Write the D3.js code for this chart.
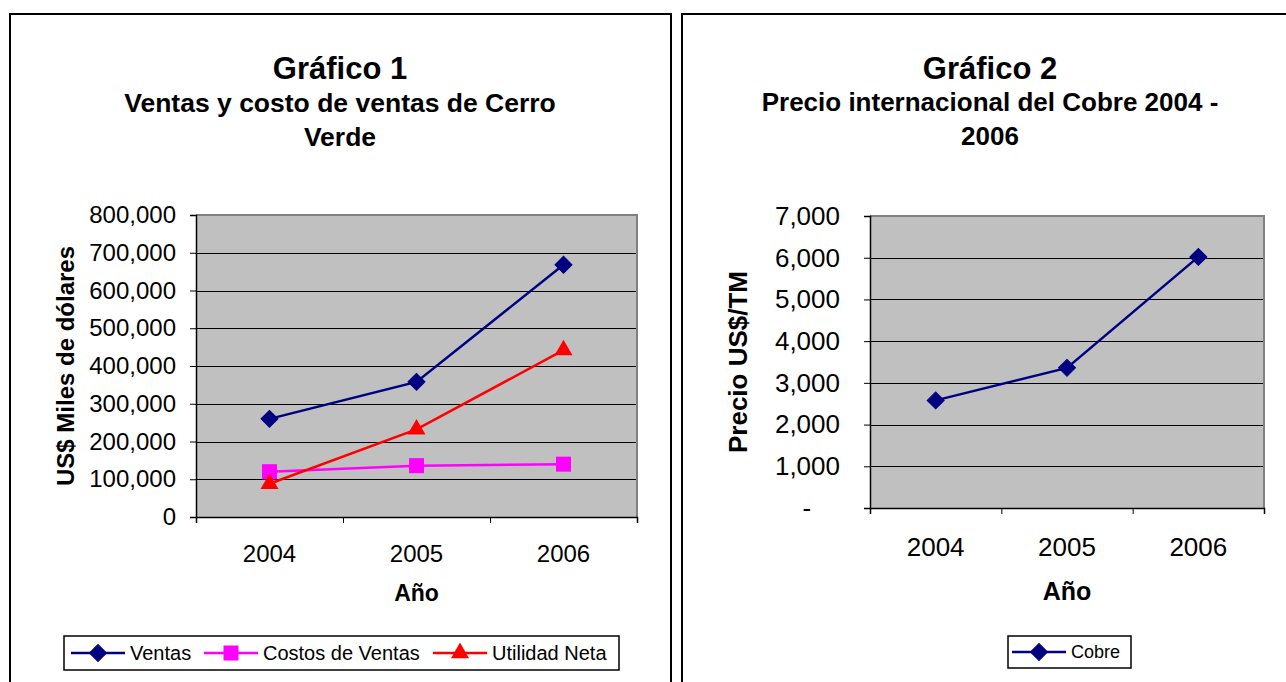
<!DOCTYPE html>
<html><head><meta charset="utf-8">
<script src="https://cdn.jsdelivr.net/npm/d3@7"></script>
<style>
html,body{margin:0;padding:0;background:#fff;}
svg{display:block;font-family:"Liberation Sans",Arial,sans-serif;}
</style></head>
<body>
<svg id="c" width="1286" height="682"></svg>
<script>
// ---- data ----
const years = ["2004", "2005", "2006"];
const ventas = [260000, 358000, 668000];
const costos = [120000, 136000, 140000];
const utilidad = [88000, 232000, 442000];
const cobre = [2580, 3360, 6020];
const yTicks1 = [0, 100000, 200000, 300000, 400000, 500000, 600000, 700000, 800000];
const yTicks2 = [0, 1000, 2000, 3000, 4000, 5000, 6000, 7000];
const seriesNames1 = ["Ventas", "Costos de Ventas", "Utilidad Neta"];
const seriesNames2 = ["Cobre"];

const svg = d3.select("#c");
const fmt = d3.format(",");

function diamond(g, x, y, col, diag) {
  const s = diag / Math.SQRT2;
  g.append("path").attr("d", d3.symbol(d3.symbolSquare, s * s)())
    .attr("transform", `translate(${x},${y}) rotate(45)`).attr("fill", col).attr("stroke", col).attr("stroke-width", 1);
}
function square(g, x, y, col, side) {
  g.append("path").attr("d", d3.symbol(d3.symbolSquare, side * side)())
    .attr("transform", `translate(${x},${y})`).attr("fill", col);
}
function triangle(g, x, y, col, side) {
  g.append("path").attr("d", d3.symbol(d3.symbolTriangle, side * side * Math.sqrt(3) / 4)())
    .attr("transform", `translate(${x},${y})`).attr("fill", col);
}
const markerFns = { diamond, square, triangle };

function drawChart(cfg) {
  const g = svg.append("g");
  // outer frame
  g.append("rect").attr("x", cfg.frame[0]).attr("y", cfg.frame[1]).attr("width", cfg.frame[2]).attr("height", cfg.frame[3])
    .attr("fill", "#fff").attr("stroke", "#000").attr("stroke-width", 2);
  // titles
  cfg.titles.forEach(t => {
    g.append("text").attr("x", cfg.cx).attr("y", t.y).attr("text-anchor", "middle")
      .attr("font-weight", "bold").attr("font-size", t.size).attr("fill", "#000").text(t.text);
  });
  const [L, T, R, B] = cfg.plot;
  const y = d3.scaleLinear().domain([0, d3.max(cfg.yTicks)]).range([B, T]);
  const xb = d3.scaleLinear().domain([0, cfg.cats.length]).range([L, R]);
  const x = i => xb(i + 0.5);
  // plot background
  g.append("rect").attr("x", L).attr("y", T).attr("width", R - L).attr("height", B - T).attr("fill", "#c0c0c0");
  // gridlines
  g.append("g").selectAll("line").data(cfg.yTicks.filter(v => v > 0 && v < d3.max(cfg.yTicks))).join("line")
    .attr("x1", L).attr("x2", R).attr("y1", d => Math.round(y(d)) + 0.5).attr("y2", d => Math.round(y(d)) + 0.5)
    .attr("stroke", "#000").attr("stroke-width", 1);
  // plot border top/right
  g.append("path").attr("d", `M${L},${T}H${R}V${B}`).attr("fill", "none").attr("stroke", "#808080").attr("stroke-width", 2);
  // y axis
  const ya = d3.axisLeft(y).tickValues(cfg.yTicks).tickSize(6).tickPadding(cfg.yPad).tickFormat(cfg.yFmt);
  const yg = g.append("g").attr("transform", `translate(${L},0)`).call(ya);
  yg.select(".domain").attr("stroke", "#000").attr("stroke-width", 1.5);
  yg.selectAll(".tick line").attr("stroke", "#000");
  yg.selectAll("text").attr("font-size", cfg.tickSize).attr("fill", "#000")
    .attr("font-family", '"Liberation Sans",Arial,sans-serif').style("white-space", "pre");
  // x axis ticks at boundaries
  const xa = d3.axisBottom(xb).tickValues(d3.range(cfg.cats.length + 1)).tickSize(6).tickFormat("");
  const xg = g.append("g").attr("transform", `translate(0,${B})`).call(xa);
  xg.select(".domain").attr("stroke", "#000").attr("stroke-width", 1.5);
  xg.selectAll(".tick line").attr("stroke", "#000");
  // category labels
  g.append("g").selectAll("text").data(cfg.cats).join("text")
    .attr("x", (d, i) => x(i)).attr("y", cfg.catY).attr("text-anchor", "middle")
    .attr("font-size", cfg.tickSize).attr("fill", "#000").text(d => d);
  // axis titles
  g.append("text").attr("x", (L + R) / 2).attr("y", cfg.xTitleY).attr("text-anchor", "middle")
    .attr("font-weight", "bold").attr("font-size", cfg.xTitleSize).text(cfg.xTitle);
  g.append("text").attr("transform", `translate(${cfg.yTitleX},${(T + B) / 2}) rotate(-90)`).attr("text-anchor", "middle")
    .attr("font-weight", "bold").attr("font-size", cfg.yTitleSize).text(cfg.yTitle);
  // series
  const line = d3.line().x((d, i) => x(i)).y(d => y(d));
  cfg.series.forEach(s => {
    g.append("path").datum(s.values).attr("d", line).attr("fill", "none").attr("stroke", s.color).attr("stroke-width", 2.5);
  });
  cfg.series.forEach(s => {
    s.values.forEach((v, i) => markerFns[s.marker](g, x(i), y(v), s.color, s.msize));
  });
  // legend
  const lg = cfg.legend;
  g.append("rect").attr("x", lg.box[0]).attr("y", lg.box[1]).attr("width", lg.box[2]).attr("height", lg.box[3])
    .attr("fill", "#fff").attr("stroke", "#000").attr("stroke-width", 1.5);
  const ly = lg.box[1] + lg.box[3] / 2;
  cfg.series.forEach((s, k) => {
    const x0 = lg.items[k];
    g.append("line").attr("x1", x0).attr("x2", x0 + 54).attr("y1", ly).attr("y2", ly).attr("stroke", s.color).attr("stroke-width", 2.5);
    markerFns[s.marker](g, x0 + 27, ly, s.color, s.msize);
    g.append("text").attr("x", x0 + 59).attr("y", ly + lg.size * 0.36).attr("font-size", lg.size).attr("fill", "#000").text(s.name);
  });
}

drawChart({
  frame: [10, 14, 661, 700], cx: 340,
  titles: [{ text: "Gráfico 1", y: 79, size: 31 },
           { text: "Ventas y costo de ventas de Cerro", y: 112, size: 26.5 },
           { text: "Verde", y: 146, size: 26.5 }],
  plot: [196, 215, 637, 517], cats: years, yTicks: yTicks1, yFmt: fmt, yPad: 14, tickSize: 24,
  catY: 562, xTitle: "Año", xTitleY: 601, xTitleSize: 23,
  yTitle: "US$ Miles de dólares", yTitleX: 74, yTitleSize: 24,
  series: [
    { name: seriesNames1[0], values: ventas, color: "#000080", marker: "diamond", msize: 17 },
    { name: seriesNames1[1], values: costos, color: "#ff00ff", marker: "square", msize: 15 },
    { name: seriesNames1[2], values: utilidad, color: "#ff0000", marker: "triangle", msize: 18 }
  ],
  legend: { box: [64, 636, 555, 34], items: [71, 204, 433], size: 20 }
});

drawChart({
  frame: [682, 14, 700, 700], cx: 990,
  titles: [{ text: "Gráfico 2", y: 79, size: 31 },
           { text: "Precio internacional del Cobre 2004 -", y: 111, size: 26 },
           { text: "2006", y: 145, size: 26 }],
  plot: [870, 216, 1264, 508], cats: years, yTicks: yTicks2,
  yFmt: d => d === 0 ? "-\u00a0\u00a0\u00a0\u00a0" : fmt(d), yPad: 24, tickSize: 26,
  catY: 556, xTitle: "Año", xTitleY: 600, xTitleSize: 25,
  yTitle: "Precio US$/TM", yTitleX: 747, yTitleSize: 26,
  series: [
    { name: seriesNames2[0], values: cobre, color: "#000080", marker: "diamond", msize: 17 }
  ],
  legend: { box: [1008, 636, 123, 32], items: [1012], size: 18 }
});
</script>
</body></html>
